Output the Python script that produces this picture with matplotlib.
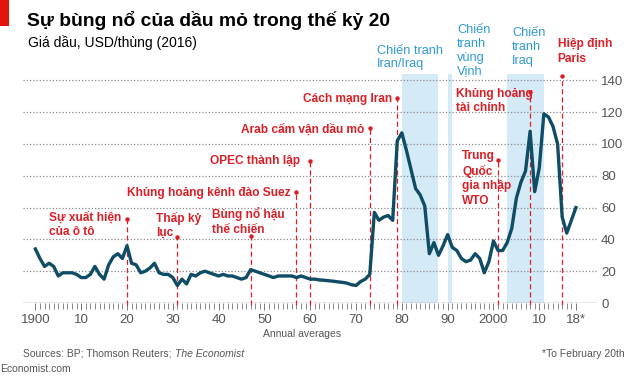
import numpy as np
import matplotlib
matplotlib.use("Agg")
import matplotlib.pyplot as plt
from matplotlib.patches import Rectangle

plt.rcParams['font.family'] = ['Liberation Sans', 'DejaVu Sans']

# Oil price, USD/barrel in 2016 dollars, annual averages (2018 to Feb 20th)
years = np.arange(1900, 2019)
price = [
    34, 28, 23, 25, 23, 17, 19, 19, 19, 18,   # 1900s
    16, 16, 18, 23, 18, 15, 24, 29, 31, 28,   # 1910s
    36, 25, 24, 19, 20, 22, 25, 19, 18, 18,   # 1920s
    16, 11, 15, 12, 18, 17, 19, 20, 19, 18,   # 1930s
    17, 18, 17, 17, 16, 15, 16, 21, 20, 19,   # 1940s
    18, 17, 16, 17, 17, 17, 17, 16, 17, 16,   # 1950s
    15, 15, 14.5, 14.3, 14, 13.7, 13.3, 13, 12.5, 11.5,  # 1960s
    11, 13.5, 15, 18, 57, 52, 54, 55, 52, 102,  # 1970s
    107, 96, 84, 72, 68, 61, 31, 38, 30, 36,  # 1980s
    43, 35, 33, 28, 26, 27, 31, 28, 19, 26,   # 1990s
    39, 33, 33, 38, 47, 66, 76, 83, 108, 70,  # 2000s
    85, 119, 117, 111, 100, 54, 44, 52, 60,   # 2010s
]

# Events: year, height of marker, label
event_years = [1920, 1931, 1947, 1957, 1960, 1973, 1979, 2001, 2008, 2015]
event_tops = [53, 41.5, 42, 70, 89, 110, 129, 90, 133, 143]
event_labels = ["Sự xuất hiện\ncủa ô tô", "Thấp kỷ\nlục", "Bùng nổ hậu\nthế chiến",
                "Khủng hoảng kênh đào Suez", "OPEC thành lập", "Arab cấm vận dầu mỏ",
                "Cách mạng Iran", "Trung\nQuốc\ngia nhập\nWTO", "Khủng hoảng\ntài chính",
                "Hiệp định\nParis"]

# Wars: start, end, label
war_starts = [1980, 1990, 2003]
war_ends = [1988, 1991, 2011]
war_labels = ["Chiến tranh\nIran/Iraq", "Chiến\ntranh\nvùng\nVịnh", "Chiến\ntranh\nIraq"]

RED = '#db1f26'
BLUE = '#2f9ad4'
SHADE = '#d5eaf7'
LINE = '#0f4c65'
GREY = '#555555'

fig = plt.figure(figsize=(6.4, 3.79), dpi=100)
ax = fig.add_axes([23/640, 1-303/379, 574/640, 150*1.59/379])
ax.set_xlim(1897.3, 2022.6)
ax.set_ylim(0, 150)

# shaded war periods
for s, e in zip(war_starts, war_ends):
    ax.fill_between([s, e], 0, 144, color=SHADE, lw=0, zorder=1)

# gridlines
for v in range(20, 160, 20):
    ax.axhline(v, color='#8a8a8a', lw=0.9, ls=(0, (1, 1.6)), zorder=2)
ax.axhline(0, color='#8a8a8a', lw=1.0, zorder=3)

# event markers
for yr, top in zip(event_years, event_tops):
    ax.plot([yr, yr], [-1.5, top], color=RED, lw=0.9, ls=(0, (4, 2.5)),
            zorder=3, clip_on=False)
    ax.plot(yr, top, 'o', color=RED, ms=2.2, zorder=3, clip_on=False)

ax.plot(years, price, color=LINE, lw=2.4, solid_joinstyle='round', zorder=4)

# event labels: x, y, ha, va (layout)
ev_pos = [(1903.0, 57.5, 'left', 'top'), (1926.3, 57.5, 'left', 'top'),
          (1938.6, 60.5, 'left', 'top'), (1955.8, 69, 'right', 'center'),
          (1957.9, 89.5, 'right', 'center'), (1971.8, 109, 'right', 'center'),
          (1977.9, 128.5, 'right', 'center'), (1993.2, 96.5, 'left', 'top'),
          (1991.8, 135.5, 'left', 'top'), (2014.0, 166.5, 'left', 'top')]
for lab, (x, y, ha, va) in zip(event_labels, ev_pos):
    ax.text(x, y, lab, color=RED, fontsize=8.6, fontweight='bold', ha=ha, va=va,
            linespacing=1.3, multialignment='left', zorder=5, clip_on=False)

war_pos = [(1974.5, 162.5), (1992.1, 175.5), (2004.1, 173.5)]
for lab, (x, y) in zip(war_labels, war_pos):
    ax.text(x, y, lab, color=BLUE, fontsize=9.2, ha='left', va='top',
            linespacing=1.2, zorder=5, clip_on=False)

# axes styling
for sp in ax.spines.values():
    sp.set_visible(False)
ax.yaxis.tick_right()
ax.set_yticks(range(0, 160, 20))
ax.set_yticklabels([str(v) for v in range(0, 160, 20)], color=GREY, fontsize=9.5)
ax.tick_params(axis='y', length=0, pad=3)
xt = list(range(1900, 2020, 10)) + [2018]
xl = ['1900', '10', '20', '30', '40', '50', '60', '70', '80', '90', '2000', '10', '18*']
ax.set_xticks(xt)
ax.set_xticklabels(xl, color=GREY, fontsize=9.5)
ax.set_xticks(range(1900, 2019), minor=True)
ax.tick_params(axis='x', which='major', length=5, width=0.7, color='#777777', pad=3)
ax.tick_params(axis='x', which='minor', length=4, width=0.6, color='#777777')

# texts
fig.add_artist(Rectangle((0, 1-26/379), 9/640, 26/379, transform=fig.transFigure,
                         color='#e3120b', lw=0))
fig.text(27/640, 1-20/379, "Sự bùng nổ của dầu mỏ trong thế kỷ 20", fontsize=13.9,
         fontweight='bold', va='center', ha='left')
fig.text(28/640, 1-43/379, "Giá dầu, USD/thùng (2016)", fontsize=10, va='center', ha='left')
fig.text(302/640, 1-334/379, "Annual averages", fontsize=7.5, color=GREY, ha='center', va='center')
src = fig.text(23/640, 1-354/379, "Sources: BP; Thomson Reuters; ", fontsize=7.5, color=GREY,
               ha='left', va='center')
fig.canvas.draw()
bb = src.get_window_extent()
fig.text(bb.x1/640 + 1/640, 1-354/379, "The Economist", fontsize=7.5, color=GREY,
         style='italic', ha='left', va='center')
fig.text(625/640, 1-354/379, "*To February 20th", fontsize=7.5, color=GREY,
         ha='right', va='center')
fig.text(0, 1-369/379, "Economist.com", fontsize=7.5, color=GREY, ha='left', va='center')

fig.savefig('out.png', dpi=100)
